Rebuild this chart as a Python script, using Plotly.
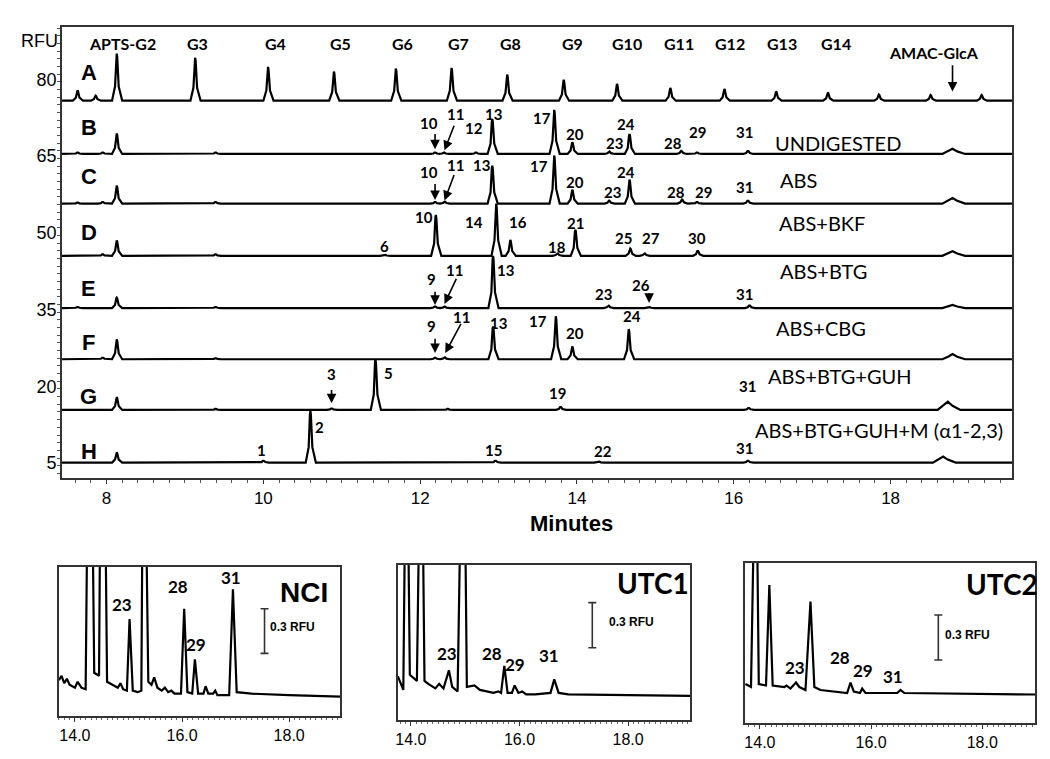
import plotly.graph_objects as go

# ---- main electropherogram (stacked traces A-H), peak times in min, heights in RFU ----
X_MIN, X_MAX = 7.43, 19.55
row_names = ["A", "B", "C", "D", "E", "F", "G", "H"]
row_offsets = [75.8, 65.4, 55.7, 45.5, 35.3, 25.3, 15.4, 5.1]

a_times = [7.63, 7.86, 8.13, 9.13, 10.06, 10.90, 11.69, 12.40, 13.11, 13.83, 14.51, 15.19, 15.88, 16.54, 17.20, 17.85, 18.51, 19.16]
a_heights = [2.0, 1.0, 9.2, 8.4, 6.6, 5.7, 6.3, 6.4, 5.1, 4.1, 3.3, 2.5, 2.3, 1.8, 1.6, 1.2, 1.1, 1.1]
b_times = [7.63, 7.95, 8.13, 9.39, 12.19, 12.30, 12.71, 12.92, 13.71, 13.94, 14.41, 14.67, 15.33, 15.53, 16.18]
b_heights = [0.3, 0.3, 4.0, 0.3, 0.3, 0.3, 0.3, 6.8, 8.6, 2.3, 0.5, 3.9, 0.6, 0.3, 0.6]
c_times = [7.63, 7.95, 8.13, 9.39, 12.19, 12.31, 12.92, 13.71, 13.94, 14.41, 14.67, 15.34, 15.53, 16.18]
c_heights = [0.2, 0.3, 3.5, 0.3, 0.3, 0.4, 7.4, 9.4, 2.7, 0.6, 4.7, 0.8, 0.3, 0.6]
d_times = [7.95, 8.13, 9.39, 11.55, 12.20, 12.97, 13.15, 13.75, 13.98, 14.68, 14.86, 15.54]
d_heights = [0.3, 3.0, 0.3, 0.2, 8.0, 10.2, 3.1, 0.5, 5.1, 1.4, 0.5, 1.0]
e_times = [7.63, 8.13, 9.39, 12.19, 12.31, 12.93, 14.40, 14.92, 16.20]
e_heights = [0.2, 2.0, 0.2, 0.3, 0.3, 10.2, 0.5, 0.2, 0.5]
f_times = [7.95, 8.13, 9.39, 12.19, 12.31, 12.93, 13.73, 13.94, 14.66]
f_heights = [0.3, 3.9, 0.2, 0.3, 0.4, 6.4, 8.4, 2.5, 5.9]
g_times = [8.13, 9.39, 10.87, 11.43, 12.35, 13.79, 16.19]
g_heights = [2.5, 0.2, 0.3, 9.9, 0.2, 0.6, 0.4]
h_times = [8.13, 10.00, 10.60, 12.96, 14.28, 16.18]
h_heights = [2.0, 0.4, 10.1, 0.4, 0.2, 0.4]

# AMAC-GlcA standard peak, rows B..H (absent in A)
amac_times = [18.79, 18.79, 18.79, 18.79, 18.79, 18.73, 18.67]
amac_heights = [1.0, 1.1, 0.9, 0.6, 1.0, 1.6, 1.2]

ladder_names = ["APTS-G2", "G3", "G4", "G5", "G6", "G7", "G8", "G9", "G10", "G11", "G12", "G13", "G14"]
sample_names = ["UNDIGESTED", "ABS", "ABS+BKF", "ABS+BTG", "ABS+CBG", "ABS+BTG+GUH", "ABS+BTG+GUH+M (\u03b11-2,3)"]
y_ticks = [80, 65, 50, 35, 20, 5]

# ---- insets: traces read point by point (min, RFU) ----
nci_t = [13.70, 13.75, 13.80, 13.85, 13.90, 14.00, 14.05, 14.12, 14.20, 14.23, 14.33, 14.36, 14.45, 14.47, 14.57,
         14.60, 14.70, 14.80, 14.85, 14.90, 14.97, 15.02, 15.08, 15.17, 15.24, 15.26, 15.33, 15.37, 15.43, 15.48,
         15.54, 15.62, 15.68, 15.74, 15.80, 15.86, 15.98, 16.04, 16.10, 16.19, 16.24, 16.30, 16.40, 16.44, 16.49,
         16.58, 16.62, 16.66, 16.88, 16.95, 17.02, 17.30, 18.00, 18.95]
nci_y = [0.24, 0.27, 0.22, 0.25, 0.21, 0.19, 0.23, 0.19, 0.18, 1.30, 1.30, 0.29, 0.27, 1.30, 1.30,
         0.23, 0.21, 0.19, 0.22, 0.18, 0.17, 0.65, 0.17, 0.16, 0.17, 1.30, 1.30, 0.23, 0.21, 0.26,
         0.19, 0.17, 0.19, 0.16, 0.17, 0.15, 0.15, 0.72, 0.16, 0.15, 0.38, 0.15, 0.15, 0.20, 0.15,
         0.15, 0.17, 0.14, 0.14, 0.85, 0.16, 0.15, 0.14, 0.13]
utc1_t = [13.76, 13.86, 13.89, 13.95, 13.98, 14.11, 14.15, 14.22, 14.25, 14.32, 14.45, 14.52, 14.60, 14.70, 14.76,
          14.86, 14.91, 15.00, 15.03, 15.17, 15.27, 15.40, 15.52, 15.61, 15.66, 15.72, 15.78, 15.86, 15.91, 15.98,
          16.05, 16.12, 16.29, 16.57, 16.64, 16.72, 16.90, 19.14]
utc1_y = [0.29, 0.20, 1.30, 1.30, 0.30, 0.26, 1.30, 1.30, 0.26, 0.24, 0.21, 0.24, 0.21, 0.33, 0.22,
          0.19, 1.30, 1.30, 0.22, 0.23, 0.20, 0.19, 0.18, 0.19, 0.18, 0.36, 0.18, 0.18, 0.23, 0.18,
          0.19, 0.17, 0.17, 0.18, 0.27, 0.18, 0.17, 0.16]
utc2_t = [13.74, 13.84, 13.89, 13.95, 13.98, 14.11, 14.17, 14.23, 14.44, 14.48, 14.55, 14.65, 14.71, 14.82, 14.91,
          14.98, 15.09, 15.33, 15.57, 15.63, 15.69, 15.80, 15.84, 15.90, 16.47, 16.53, 16.60, 18.95]
utc2_y = [0.26, 0.24, 1.30, 1.30, 0.26, 0.25, 0.92, 0.25, 0.24, 0.25, 0.23, 0.27, 0.24, 0.22, 0.81,
          0.24, 0.22, 0.21, 0.20, 0.27, 0.21, 0.20, 0.23, 0.20, 0.20, 0.22, 0.20, 0.19]
SCALE_RFU = 0.3

ARIAL = "Liberation Sans, Arial"
CALIBRI = "Lato, Open Sans, sans-serif"

# the page body has an 8 px margin, so the figure is drawn 8 px smaller and placed from there
PAGE_PAD = 8
W, H = 1050 - PAGE_PAD, 759 - PAGE_PAD


def px_x(x0, x1):
    return [(x0 - PAGE_PAD) / W, (x1 - PAGE_PAD) / W]


def px_y(top, bottom):
    return [1 - (bottom - PAGE_PAD) / H, 1 - (top - PAGE_PAD) / H]


def paper_pt(px, py):
    return (px - PAGE_PAD) / W, 1 - (py - PAGE_PAD) / H


# peak glyphs (offset in min, fraction of height)
NARROW = [(-0.06, 0), (-0.022, 0.3), (-0.006, 0.93), (0, 1), (0.006, 0.93), (0.025, 0.3), (0.07, 0)]
BROAD = [(-0.13, 0), (-0.05, 0.55), (0, 1), (0.06, 0.5), (0.16, 0)]


def trace_xy(times, heights, base, amac=None):
    peaks = [(t, h, NARROW) for t, h in zip(times, heights)]
    if amac is not None:
        peaks.append((amac[0], amac[1], BROAD))
    xs, ys = [X_MIN], [base]
    for t, h, glyph in sorted(peaks, key=lambda p: p[0]):
        for dx, f in glyph:
            xs.append(t + dx)
            ys.append(base + f * h)
    xs.append(X_MAX)
    ys.append(base)
    return xs, ys


fig = go.Figure()

all_times = [a_times, b_times, c_times, d_times, e_times, f_times, g_times, h_times]
all_heights = [a_heights, b_heights, c_heights, d_heights, e_heights, f_heights, g_heights, h_heights]
for i, name in enumerate(row_names):
    amac = None if i == 0 else (amac_times[i - 1], amac_heights[i - 1])
    xs, ys = trace_xy(all_times[i], all_heights[i], row_offsets[i], amac)
    fig.add_trace(go.Scatter(x=xs, y=ys, mode="lines", name=name,
                             line=dict(color="black", width=2.2), xaxis="x", yaxis="y",
                             hoverinfo="skip"))

for j, (tt, yy) in enumerate([(nci_t, nci_y), (utc1_t, utc1_y), (utc2_t, utc2_y)]):
    ax = str(j + 2)
    fig.add_trace(go.Scatter(x=tt, y=yy, mode="lines", line=dict(color="black", width=2.2),
                             xaxis="x" + ax, yaxis="y" + ax, hoverinfo="skip"))

# 0.3 RFU scale bars (error bar of +/- half the scale)
bar_pos = [(17.54, 0.57), (17.34, 0.63), (17.21, 0.57)]
for j, (bx, by) in enumerate(bar_pos):
    ax = str(j + 2)
    fig.add_trace(go.Scatter(x=[bx], y=[by], mode="markers", marker=dict(size=1, color="rgba(0,0,0,0)"),
                             error_y=dict(type="constant", value=SCALE_RFU / 2, color="#333",
                                          thickness=1.6, width=4),
                             xaxis="x" + ax, yaxis="y" + ax, hoverinfo="skip"))

ann = []


def txt(x, y, s, size=15, family=CALIBRI, bold=True, xref="x", yref="y"):
    ann.append(dict(x=x, y=y, xref=xref, yref=yref, text="<b>%s</b>" % s if bold else s,
                    xanchor="center", yanchor="middle", showarrow=False,
                    font=dict(family=family, size=size, color="black")))


def arrow(hx, hy, tx, ty):
    ann.append(dict(x=hx, y=hy, ax=tx, ay=ty, xref="x", yref="y", axref="x", ayref="y",
                    text="", showarrow=True, arrowhead=2, arrowsize=1.2, arrowwidth=1.6,
                    arrowcolor="black", standoff=0))


# ladder labels
ladder_x = [8.20, 9.16, 10.15, 10.98, 11.77, 12.49, 13.15, 13.94, 14.64, 15.30, 15.95, 16.61, 17.30]
for s, x in zip(ladder_names, ladder_x):
    txt(x, 87.0, s, size=16)
txt(18.55, 85.3, "AMAC-GlcA", size=16)
arrow(18.79, 77.6, 18.79, 83.0)

# row letters
letter_y = [81.4, 70.6, 60.9, 50.1, 39.1, 28.6, 18.1, 7.2]
for s, y in zip(row_names, letter_y):
    txt(7.77, y, s, size=22, family=ARIAL)

# sample names
sample_pos = [(17.33, 67.5), (16.83, 60.4), (17.13, 51.9), (17.15, 42.5), (17.11, 31.5), (17.36, 22.1), (17.85, 11.4)]
for s, (x, y) in zip(sample_names, sample_pos):
    txt(x, y, s, size=20, bold=False)

# peak number labels
peak_labels = [
    ("10", 12.11, 71.4), ("11", 12.45, 73.2), ("12", 12.69, 70.5), ("13", 12.94, 73.2), ("17", 13.55, 72.4),
    ("20", 13.98, 69.3), ("23", 14.48, 67.5), ("24", 14.63, 71.3), ("28", 15.23, 67.5), ("29", 15.54, 69.7),
    ("31", 16.14, 69.7),
    ("10", 12.11, 61.9), ("11", 12.45, 63.3), ("13", 12.78, 63.3), ("17", 13.52, 63.0), ("20", 13.98, 60.0),
    ("23", 14.45, 57.9), ("24", 14.63, 61.9), ("28", 15.26, 58.0), ("29", 15.62, 58.0), ("31", 16.14, 59.0),
    ("6", 11.55, 47.5), ("10", 12.05, 53.1), ("14", 12.69, 52.2), ("16", 13.25, 52.2), ("18", 13.75, 47.3),
    ("21", 13.98, 51.9), ("25", 14.59, 49.0), ("27", 14.95, 49.0), ("30", 15.53, 49.0),
    ("9", 12.15, 41.0), ("11", 12.44, 42.7), ("13", 13.09, 42.7), ("23", 14.34, 38.0), ("26", 14.82, 39.8),
    ("31", 16.14, 38.0),
    ("9", 12.15, 31.8), ("11", 12.53, 33.5), ("13", 13.00, 32.3), ("17", 13.50, 32.7), ("20", 13.97, 30.4),
    ("24", 14.70, 33.7),
    ("3", 10.87, 22.5), ("5", 11.59, 22.7), ("19", 13.75, 18.8), ("31", 16.18, 20.0),
    ("1", 9.97, 7.5), ("2", 10.71, 12.0), ("15", 12.93, 7.5), ("22", 14.33, 7.4), ("31", 16.14, 7.9),
]
for s, x, y in peak_labels:
    txt(x, y, s, size=15)

arrow(12.19, 66.3, 12.19, 69.6)
arrow(12.31, 66.1, 12.44, 71.2)
arrow(12.19, 56.4, 12.19, 59.8)
arrow(12.31, 56.3, 12.44, 61.6)
arrow(12.19, 35.9, 12.19, 38.8)
arrow(12.31, 36.1, 12.47, 41.3)
arrow(14.92, 36.3, 14.92, 38.5)
arrow(12.19, 26.5, 12.19, 29.6)
arrow(12.32, 26.5, 12.53, 32.5)
arrow(10.87, 16.7, 10.87, 19.6)

rx, ry = paper_pt(37, 41)
txt(rx, ry, "RFU", size=18, family=ARIAL, bold=False, xref="paper", yref="paper")
mx, my = paper_pt(570, 523)
txt(mx, my, "Minutes", size=22, family=ARIAL, xref="paper", yref="paper")

# inset labels
inset_labels = [
    [("23", 14.87, 0.75), ("28", 15.93, 0.87), ("29", 16.26, 0.48), ("31", 16.91, 0.93)],
    [("23", 14.66, 0.44), ("28", 15.50, 0.44), ("29", 15.91, 0.37), ("31", 16.55, 0.43)],
    [("23", 14.63, 0.37), ("28", 15.45, 0.44), ("29", 15.85, 0.35), ("31", 16.40, 0.31)],
]
inset_titles = [("NCI", 18.28, 0.83, ARIAL), ("UTC1", 18.46, 0.91, CALIBRI), ("UTC2", 18.36, 0.93, CALIBRI)]
rfu_pos = [(18.07, 0.60), (18.06, 0.65), (17.73, 0.59)]
for j in range(3):
    ax = str(j + 2)
    for s, x, y in inset_labels[j]:
        txt(x, y, s, size=17, xref="x" + ax, yref="y" + ax)
    s, x, y, fam = inset_titles[j]
    txt(x, y, s, size=28, family=fam, xref="x" + ax, yref="y" + ax)
    txt(rfu_pos[j][0], rfu_pos[j][1], "%.1f RFU" % SCALE_RFU, size=12, family=ARIAL,
        xref="x" + ax, yref="y" + ax)

axis_common = dict(showline=True, mirror=True, linecolor="#333", linewidth=1.5, showgrid=False,
                   zeroline=False)

layout = dict(
    width=W, height=H, margin=dict(l=0, r=0, t=0, b=0),
    paper_bgcolor="white", plot_bgcolor="white", showlegend=False,
    annotations=ann,
    xaxis=dict(domain=px_x(59, 1012), range=[X_MIN, X_MAX], tickvals=[8, 10, 12, 14, 16, 18],
               ticks="outside", ticklen=4, tickcolor="#333",
               minor=dict(dtick=0.2, ticks="outside", ticklen=3, tickcolor="#555"),
               tickfont=dict(family=ARIAL, size=17, color="black"), anchor="y", **axis_common),
    yaxis=dict(domain=px_y(27, 478), range=[2.1, 90.2], tickvals=y_ticks,
               ticks="", minor=dict(dtick=1.5, ticks="outside", ticklen=3, tickcolor="#555"),
               tickfont=dict(family=ARIAL, size=18, color="black"), anchor="x", **axis_common),
)

inset_geom = [
    (px_x(56, 338), px_y(567, 716), [13.70, 18.95], [0, 1.0]),
    (px_x(396, 689), px_y(565, 720), [13.76, 19.14], [0, 1.03]),
    (px_x(744, 1035), px_y(563, 723), [13.73, 18.95], [0, 1.067]),
]
for j, (dx, dy, xr, yr) in enumerate(inset_geom):
    ax = str(j + 2)
    layout["xaxis" + ax] = dict(domain=dx, range=xr, tickvals=[14, 16, 18], tickformat=".1f",
                                tickprefix="<b>", ticks="outside", ticklen=4, tickcolor="#333",
                                minor=dict(dtick=0.1, ticks="outside", ticklen=2, tickcolor="#666"),
                                tickfont=dict(family=ARIAL, size=16, color="black"),
                                anchor="y" + ax, **axis_common)
    layout["yaxis" + ax] = dict(domain=dy, range=yr, showticklabels=False, ticks="",
                                anchor="x" + ax, **axis_common)

fig.update_layout(**layout)
fig.write_html("out.html")
